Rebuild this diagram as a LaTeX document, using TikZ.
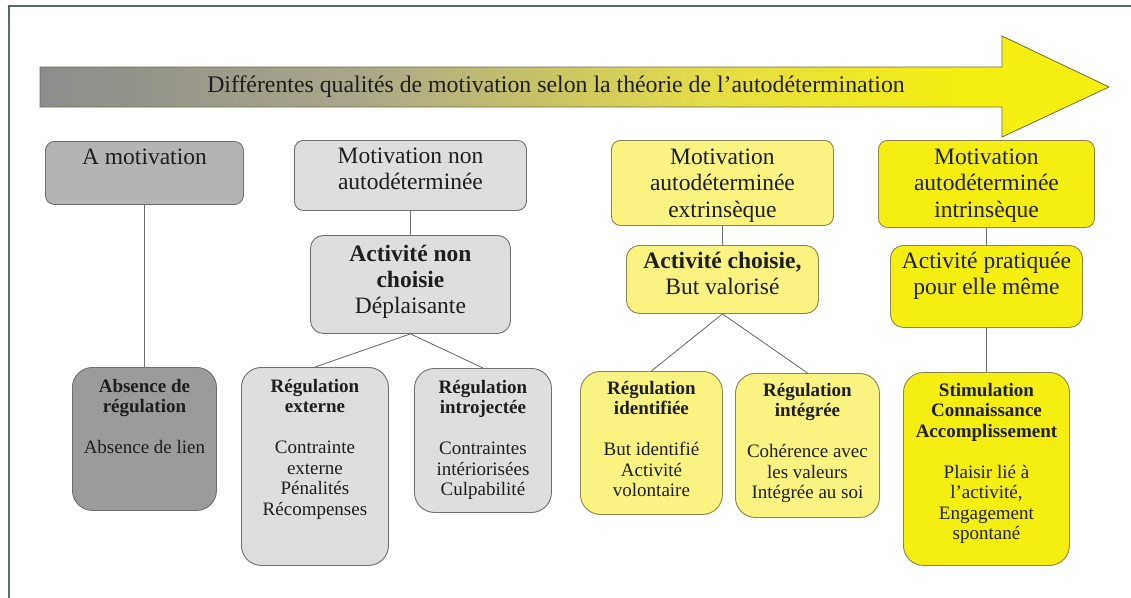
\documentclass[tikz,border=0pt]{standalone}
\usepackage{fontspec}
\setmainfont{Liberation Serif}
\definecolor{framec}{HTML}{56705F}
\definecolor{ag1}{HTML}{8C8C8C}
\definecolor{ag2}{HTML}{A9A78A}
\definecolor{ag3}{HTML}{E2DC48}
\definecolor{ag4}{HTML}{F6EE10}
\definecolor{arrowborder}{HTML}{6E6C48}
\definecolor{textc}{HTML}{1E1E1E}
\definecolor{glight}{HTML}{DEDEDE}
\definecolor{gmid}{HTML}{B4B4B4}
\definecolor{gdark}{HTML}{9B9B9B}
\definecolor{gborder}{HTML}{6E6E6E}
\definecolor{ylight}{HTML}{F9F382}
\definecolor{ybright}{HTML}{F6EE10}
\definecolor{yborder}{HTML}{8A8450}
\definecolor{connc}{HTML}{707070}
\pgfdeclarehorizontalshading{arrowshading}{100bp}{color(0bp)=(ag1); color(25bp)=(ag1); color(40bp)=(ag2); color(56bp)=(ag3); color(68bp)=(ag4); color(100bp)=(ag4)}
\newcommand{\bxc}[4]{\parbox[t][#2pt][t]{#1pt}{\centering\rule{0pt}{#3pt}#4\par}}
\tikzset{
  anybox/.style={draw=gborder, line width=0.9pt, inner sep=0pt, anchor=north west, text=textc},
  topbox/.style={anybox, rounded corners=9pt, font=\fontsize{23.5}{26.5}\selectfont},
  midbox/.style={anybox, rounded corners=13pt, font=\fontsize{23.5}{26}\selectfont},
  lowbox/.style={anybox, rounded corners=20pt, font=\fontsize{19}{20.5}\selectfont},
  ybox/.style={draw=yborder},
  conn/.style={draw=connc, line width=0.9pt}
}
\begin{document}
\begin{tikzpicture}[x=1pt,y=-1pt]
\useasboundingbox (0,0) rectangle (1131,597);
% frame
\draw[framec, line width=2.5pt] (9,610) -- (9,6) -- (1140,6);
% arrow
\path[shade, shading=arrowshading, draw=arrowborder, line width=0.8pt, line join=miter]
  (40,67) -- (1002,67) -- (1002,36) -- (1109,87) -- (1002,137) -- (1002,107) -- (40,107) -- cycle;
\node[text=textc, font=\fontsize{23.8}{26}\selectfont, inner sep=0pt] (title) at (556,87) {Différentes qualités de motivation selon la théorie de l'autodétermination};
% top row
\node[topbox, fill=gmid] (amot) at (45,141) {\bxc{198}{63}{23}{A motivation}};
\node[topbox, fill=glight] (motnon) at (294,140) {\bxc{232}{70}{23}{Motivation non\\autodéterminée}};
\node[topbox, ybox, fill=ylight] (extr) at (611,140) {\bxc{222}{85}{24}{Motivation\\autodéterminée\\extrinsèque}};
\node[topbox, ybox, fill=ybright] (intrin) at (878,140) {\bxc{216}{87}{24}{Motivation\\autodéterminée\\intrinsèque}};
% middle row
\node[midbox, fill=glight] (actnon) at (310,235) {\bxc{200}{98}{26}{\textbf{Activité non}\\\textbf{choisie}\\Déplaisante}};
\node[midbox, ybox, fill=ylight] (choisie) at (626,245) {\bxc{192}{68}{23}{\textbf{Activité choisie,}\\But valorisé}};
\node[midbox, ybox, fill=ybright] (pratiq) at (890,245) {\bxc{192}{82}{23}{Activité pratiquée\\pour elle même}};
% bottom row
\node[lowbox, fill=gdark] (absence) at (72,367) {\bxc{144}{143}{25}{\textbf{Absence de}\\\textbf{régulation}\\[20.5pt]Absence de lien}};
\node[lowbox, fill=glight] (externe) at (241,367) {\bxc{147}{198}{25}{\textbf{Régulation}\\\textbf{externe}\\[20.5pt]Contrainte\\externe\\Pénalités\\Récompenses}};
\node[lowbox, fill=glight] (introj) at (414,368) {\bxc{137}{144}{25}{\textbf{Régulation}\\\textbf{introjectée}\\[20.5pt]Contraintes\\intériorisées\\Culpabilité}};
\node[lowbox, ybox, fill=ylight] (ident) at (580,371) {\bxc{142}{143}{23}{\textbf{Régulation}\\\textbf{identifiée}\\[20.5pt]But identifié\\Activité\\volontaire}};
\node[lowbox, ybox, fill=ylight] (integ) at (735,373) {\bxc{144}{144}{23}{\textbf{Régulation}\\\textbf{intégrée}\\[20.5pt]Cohérence avec\\les valeurs\\Intégrée au soi}};
\node[lowbox, ybox, fill=ybright] (stim) at (903,372) {\bxc{166}{193}{24}{\textbf{Stimulation}\\\textbf{Connaissance}\\\textbf{Accomplissement}\\[20.5pt]Plaisir lié à\\l'activité,\\Engagement\\spontané}};
% connectors
\draw[conn] (amot.south) -- (absence.north);
\draw[conn] (motnon.south) -- (actnon.north);
\draw[conn] (actnon.south) -- (externe.north);
\draw[conn] (actnon.south) -- (introj.north);
\draw[conn] (extr.south) -- (choisie.north);
\draw[conn] (choisie.south) -- (ident.north);
\draw[conn] (choisie.south) -- (integ.north);
\draw[conn] (intrin.south) -- (pratiq.north);
\draw[conn] (pratiq.south) -- (stim.north);
\end{tikzpicture}
\end{document}
